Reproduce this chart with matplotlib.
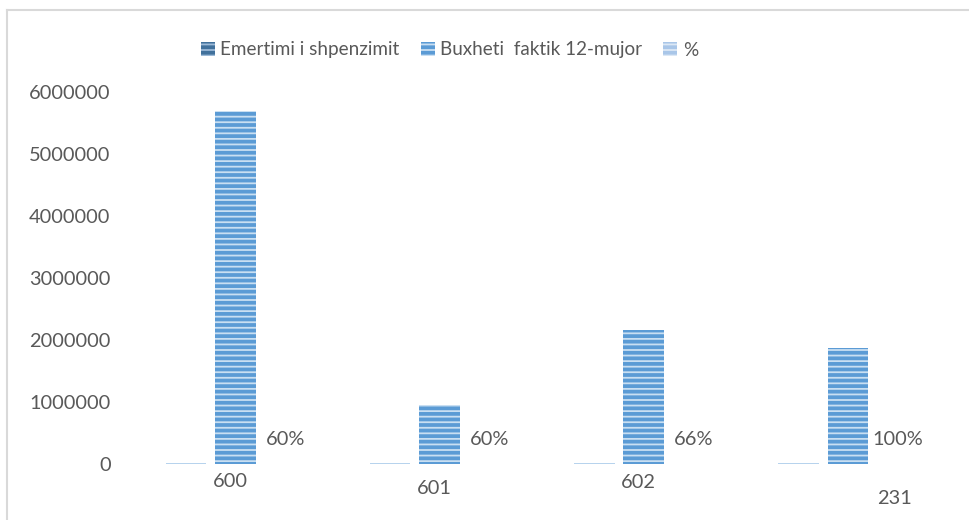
import matplotlib
matplotlib.use("Agg")
import matplotlib.pyplot as plt
from matplotlib.patches import Patch
from matplotlib.lines import Line2D
import numpy as np

# values
categories = ["", "", "", ""]
emertimi = [600, 601, 602, 231]
buxheti = [5690000, 950000, 2160000, 1870000]
perqindje = [0.60, 0.60, 0.66, 1.00]
pct_labels = ["60%", "60%", "66%", "100%"]

series_names = ["Emertimi i shpenzimit", "Buxheti  faktik 12-mujor", "%"]

plt.rcParams["font.family"] = ["Lato", "DejaVu Sans"]
plt.rcParams["hatch.linewidth"] = 2.7
text_color = "#595959"

fig = plt.figure(figsize=(9.7, 5.2), dpi=100)
ax = fig.add_axes([133.5 / 970, 1 - 464 / 520, (950 - 133.5) / 970, (464 - 92) / 520])

x = np.arange(len(categories))
w = 0.2
off = 0.243

# first and third series are tiny next to the budget, show as thin lines
ax.bar(x - off, emertimi, w, color="#9DC3E6", edgecolor="#A9CBEA", linewidth=1.2)
ax.bar(x, buxheti, w, color="#C9DFF2", edgecolor="#5B9BD5", linewidth=0, hatch="---")
ax.bar(x + off, perqindje, w, color="#C9DFF2", linewidth=0)

# data labels (offsets in pixels)
name_offsets = [-18, -25, -19, -35]
name_shift = [44, 44, 44, 96]
for i, v in enumerate(emertimi):
    ax.annotate(str(v), (x[i] - off, v), xytext=(name_shift[i] * 0.72, name_offsets[i] * 0.72),
                textcoords="offset points", ha="center", va="center",
                fontsize=14.4, color=text_color)
for i, v in enumerate(perqindje):
    ax.annotate(pct_labels[i], (x[i] + off, v), xytext=(0, 24 * 0.72),
                textcoords="offset points", ha="center", va="center",
                fontsize=14.4, color=text_color)

ax.set_xlim(-0.5, len(categories) - 0.5)
ax.set_ylim(0, 6000000)
ax.set_yticks(np.arange(0, 6000001, 1000000))
ax.set_yticklabels([str(int(t)) for t in np.arange(0, 6000001, 1000000)])
ax.set_xticks([])
ax.tick_params(axis="y", length=0, labelsize=14.4, labelcolor=text_color, pad=16.5)
for s in ax.spines.values():
    s.set_visible(False)

# legend
handles = [
    Patch(facecolor="#9DBAD8", edgecolor="#41719C", linewidth=0, hatch="---"),
    Patch(facecolor="#C9DFF2", edgecolor="#5B9BD5", linewidth=0, hatch="---"),
    Patch(facecolor="#DCE8F5", edgecolor="#A9C6E8", linewidth=0, hatch="---"),
]
fig.legend(handles, series_names, loc="center", bbox_to_anchor=(449.5 / 970, 1 - 50 / 520),
           ncol=3, frameon=False, fontsize=13.6, labelcolor=text_color,
           handlelength=0.75, handleheight=0.75, handletextpad=0.3, columnspacing=1.1)

# chart border (only left and top visible in the crop)
fig.add_artist(Line2D([7 / 970, 7 / 970], [0, 1 - 10 / 520], color="#D9D9D9", linewidth=1.5))
fig.add_artist(Line2D([7 / 970, 1], [1 - 10 / 520, 1 - 10 / 520], color="#D9D9D9", linewidth=1.5))

fig.savefig("out.png", dpi=100)
